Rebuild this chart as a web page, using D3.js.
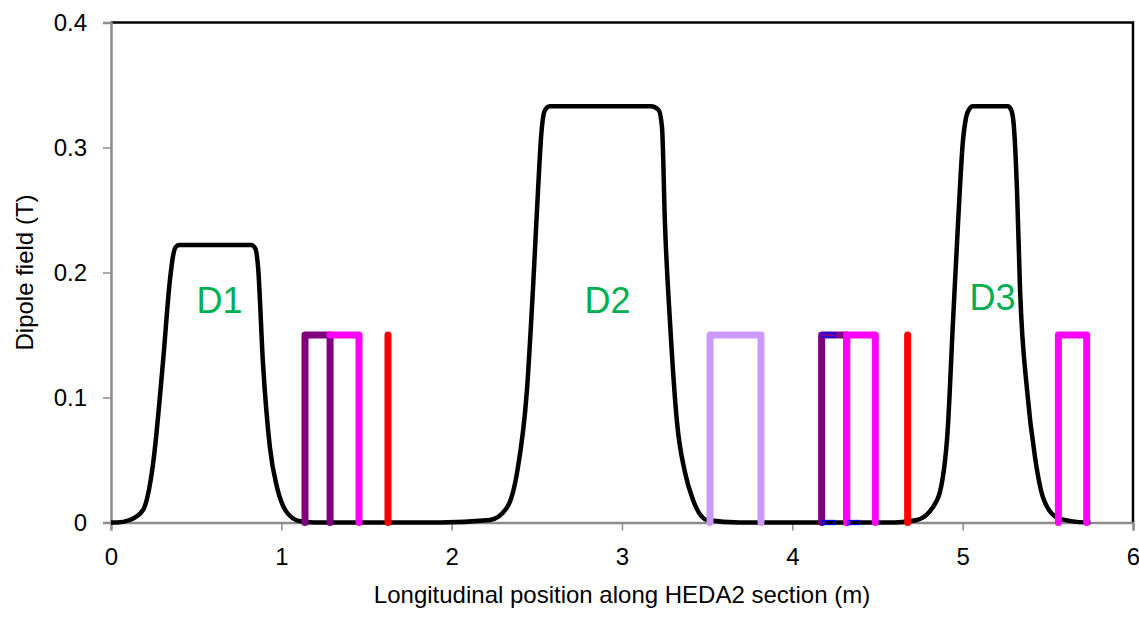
<!DOCTYPE html>
<html>
<head>
<meta charset="utf-8">
<script src="https://d3js.org/d3.v7.min.js"></script>
<style>
    body { margin: 0; background: #fff; }
    text { font-family: "Liberation Sans", Arial, sans-serif; }
</style>
</head>
<body>
<div id="chart"></div>
<script>
// dipole field along the section (m, T)
var fieldPos = [0, 0.035, 0.11, 0.188, 0.247, 0.305, 0.346, 0.364, 0.378, 0.40, 0.825, 0.848, 0.863, 0.892, 0.933, 0.975, 1.033, 1.11, 1.2,
    1.93, 2.225, 2.325, 2.384, 2.442, 2.477, 2.507, 2.527, 2.545, 2.575, 3.17, 3.215, 3.235, 3.252, 3.282, 3.323, 3.370, 3.417, 3.50, 3.69,
    4.60, 4.732, 4.85, 4.908, 4.943, 4.973, 5.002, 5.020, 5.040, 5.060, 5.265, 5.285, 5.300, 5.319, 5.337, 5.378, 5.425, 5.472, 5.554, 5.67, 5.75];
var fieldVal = [0, 0, 0.002, 0.010, 0.047, 0.128, 0.194, 0.213, 0.220, 0.222, 0.222, 0.219, 0.205, 0.128, 0.060, 0.028, 0.008, 0.001, 0,
    0, 0.002, 0.012, 0.040, 0.106, 0.186, 0.266, 0.312, 0.329, 0.333, 0.333, 0.330, 0.316, 0.240, 0.160, 0.080, 0.040, 0.018, 0.002, 0,
    0, 0.002, 0.018, 0.066, 0.160, 0.240, 0.306, 0.324, 0.331, 0.333, 0.333, 0.330, 0.318, 0.266, 0.186, 0.106, 0.052, 0.020, 0.004, 0.0005, 0];

// element markers at 0.15 height
var purpleA = [[1.139, 0], [1.139, 0.15], [1.286, 0.15], [1.286, 0]];
var magentaA = [[1.286, 0.15], [1.456, 0.15], [1.456, 0]];
var redA = [[1.626, 0], [1.626, 0.15]];
var lilacA = [[3.517, 0], [3.517, 0.15], [3.816, 0.15], [3.816, 0]];
var purpleB = [[4.172, 0], [4.172, 0.15], [4.319, 0.15], [4.319, 0]];
var magentaB = [[4.319, 0], [4.319, 0.15], [4.487, 0.15], [4.487, 0]];
var redB = [[4.677, 0], [4.677, 0.15]];
var magentaC = [[5.562, 0], [5.562, 0.15], [5.728, 0.15], [5.728, 0]];
// short blue dashes (from, to, level)
var blueDashes = [[4.175, 4.25, 0.15], [4.175, 4.25, 0], [4.325, 4.395, 0]];

var dipoleNames = ["D1", "D2", "D3"];
var dipoleLabelX = [0.637, 2.915, 5.175];
var dipoleLabelY = [0.168, 0.168, 0.170];

var xTicks = [0, 1, 2, 3, 4, 5, 6];
var yTicks = [0, 0.1, 0.2, 0.3, 0.4];

function init() {
    var w = 1139;
    var h = 636;
    var padLeft = 111, padRight = 1133, padTop = 22.5, padBottom = 522.5;

    var svg = d3.select("#chart")
        .append("svg")
        .attr("width", w)
        .attr("height", h);

    svg.append("rect").attr("width", w).attr("height", h).attr("fill", "#fff");

    var xScale = d3.scaleLinear().domain([0, 6]).range([padLeft, padRight]);
    var yScale = d3.scaleLinear().domain([0, 0.4]).range([padBottom, padTop]);

    // plot frame, black on top and right
    svg.append("path")
        .attr("d", "M" + padLeft + "," + padTop + "H" + padRight + "V" + padBottom)
        .attr("fill", "none")
        .attr("stroke", "#000")
        .attr("stroke-width", 2.5);

    // axes
    var xAxis = d3.axisBottom(xScale).tickValues(xTicks).tickSize(8).tickPadding(17).tickFormat(d3.format("d"));
    var yAxis = d3.axisLeft(yScale).tickValues(yTicks).tickSize(8).tickPadding(16)
        .tickFormat(function (d) { return d === 0 ? "0" : d3.format(".1f")(d); });

    var gx = svg.append("g")
        .attr("transform", "translate(0," + padBottom + ")")
        .call(xAxis);
    var gy = svg.append("g")
        .attr("transform", "translate(" + padLeft + ",0)")
        .call(yAxis);

    [gx, gy].forEach(function (g) {
        g.select(".domain").attr("stroke", "#8c8c8c").attr("stroke-width", 2.5);
        g.selectAll(".tick line").attr("stroke", "#8c8c8c").attr("stroke-width", 1.5);
        g.selectAll(".tick text")
            .attr("fill", "#000")
            .style("font-size", "24px")
            .style("font-family", "'Liberation Sans', Arial, sans-serif");
    });

    // field curve
    var fieldData = fieldPos.map(function (p, i) { return [p, fieldVal[i]]; });
    var line = d3.line()
        .x(function (d) { return xScale(d[0]); })
        .y(function (d) { return yScale(d[1]); })
        .curve(d3.curveMonotoneX);

    svg.append("path")
        .datum(fieldData)
        .attr("d", line)
        .attr("fill", "none")
        .attr("stroke", "#000")
        .attr("stroke-width", 4.5)
        .attr("stroke-linejoin", "round");

    // markers
    var straight = d3.line()
        .x(function (d) { return xScale(d[0]); })
        .y(function (d) { return yScale(d[1]); });

    var markers = [
        { pts: purpleA, color: "#800080" },
        { pts: magentaA, color: "#ff00ff" },
        { pts: redA, color: "#ff0000" },
        { pts: lilacA, color: "#cc99ff" },
        { pts: purpleB, color: "#800080" },
        { pts: magentaB, color: "#ff00ff" },
        { pts: redB, color: "#ff0000" },
        { pts: magentaC, color: "#ff00ff" }
    ];

    markers.forEach(function (m) {
        svg.append("path")
            .datum(m.pts)
            .attr("d", straight)
            .attr("fill", "none")
            .attr("stroke", m.color)
            .attr("stroke-width", 7)
            .attr("stroke-linejoin", "round")
            .attr("stroke-linecap", "round");
    });

    svg.selectAll(".blue-dash")
        .data(blueDashes)
        .enter()
        .append("rect")
        .attr("class", "blue-dash")
        .attr("x", function (d) { return xScale(d[0]); })
        .attr("y", function (d) { return yScale(d[2]) - 2; })
        .attr("width", function (d) { return xScale(d[1]) - xScale(d[0]); })
        .attr("height", 4)
        .attr("fill", "none")
        .attr("stroke", "#0000ff")
        .attr("stroke-width", 1.3);

    // dipole labels
    svg.selectAll(".dlabel")
        .data(dipoleNames)
        .enter()
        .append("text")
        .attr("class", "dlabel")
        .attr("x", function (d, i) { return xScale(dipoleLabelX[i]); })
        .attr("y", function (d, i) { return yScale(dipoleLabelY[i]); })
        .attr("text-anchor", "middle")
        .attr("fill", "#00b050")
        .style("font-size", "36px")
        .text(function (d) { return d; });

    // axis titles
    svg.append("text")
        .attr("x", (padLeft + padRight) / 2)
        .attr("y", 603)
        .attr("text-anchor", "middle")
        .style("font-size", "24px")
        .text("Longitudinal position along HEDA2 section (m)");

    svg.append("text")
        .attr("transform", "translate(33," + ((padTop + padBottom) / 2) + ") rotate(-90)")
        .attr("text-anchor", "middle")
        .style("font-size", "24px")
        .text("Dipole field (T)");
}

window.onload = init;
</script>
</body>
</html>
